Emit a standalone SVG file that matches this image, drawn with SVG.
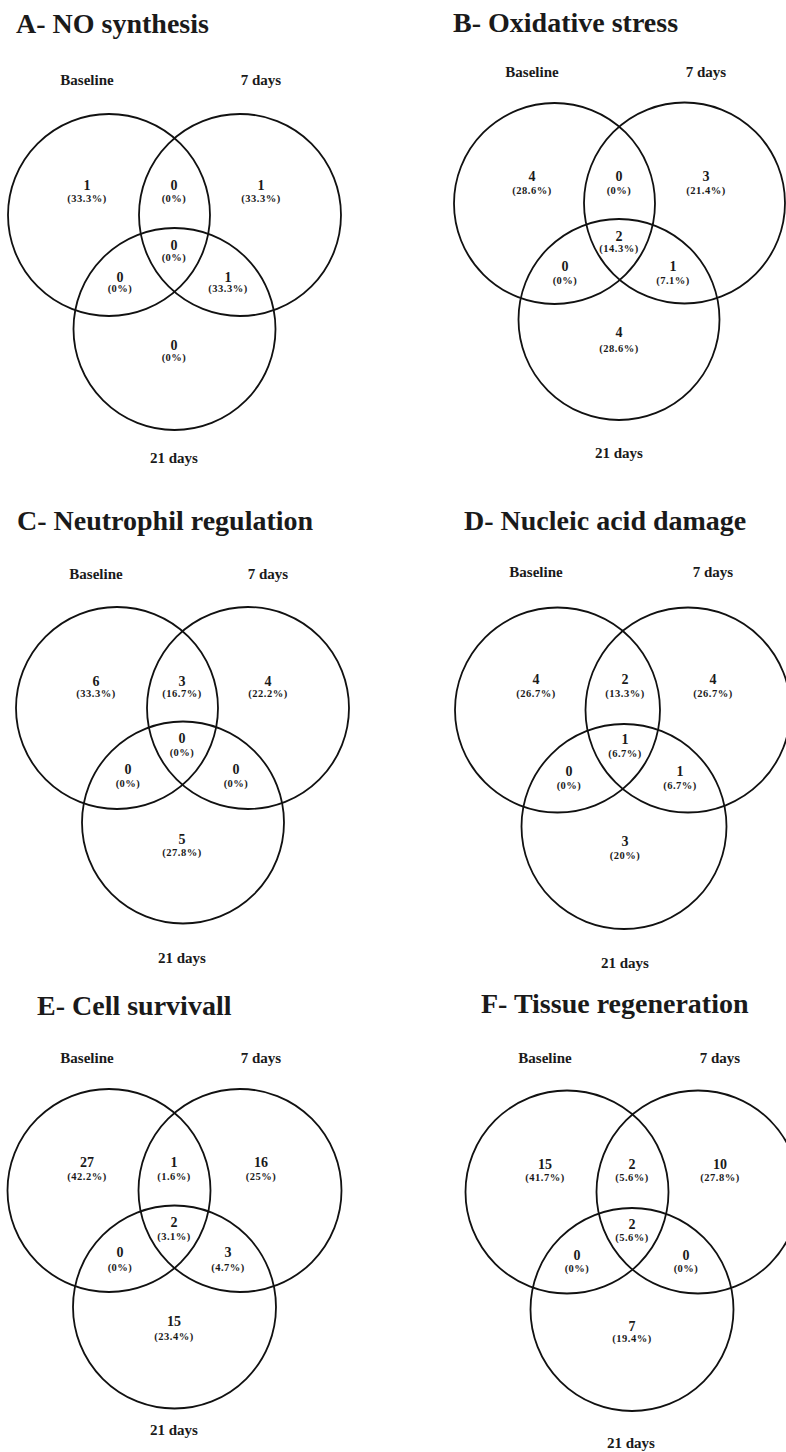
<svg xmlns="http://www.w3.org/2000/svg" width="786" height="1452" viewBox="0 0 786 1452">
<style>
text{font-family:"Liberation Serif","Times New Roman",serif;font-weight:bold;fill:#1a1a1a}
.t{font-size:28px}
.l{font-size:15px;text-anchor:middle}
.n{font-size:14px;text-anchor:middle}
.p{font-size:10.5px;text-anchor:middle;letter-spacing:0.5px}
circle{fill:none;stroke:#111;stroke-width:1.8}
</style>
<rect width="786" height="1452" fill="#fff"/>

<g id="panelA">
<text class="t" x="16" y="33">A- NO synthesis</text>
<text class="l" x="87" y="85">Baseline</text>
<text class="l" x="261" y="85">7 days</text>
<text class="l" x="174" y="463">21 days</text>
<circle cx="109" cy="215" r="101"/>
<circle cx="240" cy="215" r="101"/>
<circle cx="174.5" cy="329" r="101"/>
<text class="n" x="87" y="190">1</text><text class="p" x="87" y="202">(33.3%)</text>
<text class="n" x="174" y="190">0</text><text class="p" x="174" y="202">(0%)</text>
<text class="n" x="261" y="190">1</text><text class="p" x="261" y="202">(33.3%)</text>
<text class="n" x="174" y="250">0</text><text class="p" x="174" y="261">(0%)</text>
<text class="n" x="120" y="282">0</text><text class="p" x="120" y="292">(0%)</text>
<text class="n" x="228" y="282">1</text><text class="p" x="228" y="292">(33.3%)</text>
<text class="n" x="174" y="350">0</text><text class="p" x="174" y="361">(0%)</text>
</g>

<g id="panelB">
<text class="t" x="453" y="32">B- Oxidative stress</text>
<text class="l" x="532" y="77">Baseline</text>
<text class="l" x="706" y="77">7 days</text>
<text class="l" x="619" y="458">21 days</text>
<circle cx="554.5" cy="203.5" r="100.5"/>
<circle cx="684.5" cy="203" r="100.5"/>
<circle cx="619" cy="319.5" r="100.5"/>
<text class="n" x="532" y="181">4</text><text class="p" x="532" y="194">(28.6%)</text>
<text class="n" x="619" y="181">0</text><text class="p" x="619" y="194">(0%)</text>
<text class="n" x="706" y="181">3</text><text class="p" x="706" y="194">(21.4%)</text>
<text class="n" x="619" y="241">2</text><text class="p" x="619" y="252">(14.3%)</text>
<text class="n" x="565" y="271">0</text><text class="p" x="565" y="284">(0%)</text>
<text class="n" x="673" y="271">1</text><text class="p" x="673" y="284">(7.1%)</text>
<text class="n" x="619" y="337">4</text><text class="p" x="619" y="352">(28.6%)</text>
</g>

<g id="panelC">
<text class="t" x="17" y="530">C- Neutrophil regulation</text>
<text class="l" x="96" y="579">Baseline</text>
<text class="l" x="268" y="579">7 days</text>
<text class="l" x="182" y="963">21 days</text>
<circle cx="117" cy="708" r="101"/>
<circle cx="248" cy="708" r="101"/>
<circle cx="183" cy="822.5" r="101"/>
<text class="n" x="96" y="686">6</text><text class="p" x="96" y="697">(33.3%)</text>
<text class="n" x="182" y="686">3</text><text class="p" x="182" y="697">(16.7%)</text>
<text class="n" x="268" y="686">4</text><text class="p" x="268" y="697">(22.2%)</text>
<text class="n" x="182" y="743">0</text><text class="p" x="182" y="756">(0%)</text>
<text class="n" x="128" y="774">0</text><text class="p" x="128" y="787">(0%)</text>
<text class="n" x="236" y="774">0</text><text class="p" x="236" y="787">(0%)</text>
<text class="n" x="182" y="844">5</text><text class="p" x="182" y="856">(27.8%)</text>
</g>

<g id="panelD">
<text class="t" x="464" y="530">D- Nucleic acid damage</text>
<text class="l" x="536" y="577">Baseline</text>
<text class="l" x="713" y="577">7 days</text>
<text class="l" x="625" y="968">21 days</text>
<circle cx="557.5" cy="710" r="102.5"/>
<circle cx="688" cy="710" r="102.5"/>
<circle cx="624" cy="826.5" r="102.5"/>
<text class="n" x="536" y="684">4</text><text class="p" x="536" y="697">(26.7%)</text>
<text class="n" x="625" y="684">2</text><text class="p" x="625" y="697">(13.3%)</text>
<text class="n" x="713" y="684">4</text><text class="p" x="713" y="697">(26.7%)</text>
<text class="n" x="625" y="744">1</text><text class="p" x="625" y="757">(6.7%)</text>
<text class="n" x="569" y="776">0</text><text class="p" x="569" y="789">(0%)</text>
<text class="n" x="680" y="776">1</text><text class="p" x="680" y="789">(6.7%)</text>
<text class="n" x="625" y="846">3</text><text class="p" x="625" y="859">(20%)</text>
</g>

<g id="panelE">
<text class="t" x="37" y="1015">E- Cell survivall</text>
<text class="l" x="87" y="1063">Baseline</text>
<text class="l" x="261" y="1063">7 days</text>
<text class="l" x="174" y="1435">21 days</text>
<circle cx="109" cy="1190.5" r="101.5"/>
<circle cx="240" cy="1190.5" r="101.5"/>
<circle cx="174.5" cy="1307" r="101.5"/>
<text class="n" x="87" y="1167">27</text><text class="p" x="87" y="1180">(42.2%)</text>
<text class="n" x="174" y="1167">1</text><text class="p" x="174" y="1180">(1.6%)</text>
<text class="n" x="261" y="1167">16</text><text class="p" x="261" y="1180">(25%)</text>
<text class="n" x="174" y="1227">2</text><text class="p" x="174" y="1240">(3.1%)</text>
<text class="n" x="120" y="1257">0</text><text class="p" x="120" y="1271">(0%)</text>
<text class="n" x="228" y="1257">3</text><text class="p" x="228" y="1271">(4.7%)</text>
<text class="n" x="174" y="1326">15</text><text class="p" x="174" y="1340">(23.4%)</text>
</g>

<g id="panelF">
<text class="t" x="481" y="1013">F- Tissue regeneration</text>
<text class="l" x="545" y="1063">Baseline</text>
<text class="l" x="720" y="1063">7 days</text>
<text class="l" x="631" y="1448">21 days</text>
<circle cx="567" cy="1192" r="101.5"/>
<circle cx="698" cy="1192" r="101.5"/>
<circle cx="632" cy="1309.5" r="101.5"/>
<text class="n" x="545" y="1169">15</text><text class="p" x="545" y="1181">(41.7%)</text>
<text class="n" x="632" y="1169">2</text><text class="p" x="632" y="1181">(5.6%)</text>
<text class="n" x="720" y="1169">10</text><text class="p" x="720" y="1181">(27.8%)</text>
<text class="n" x="632" y="1229">2</text><text class="p" x="632" y="1241">(5.6%)</text>
<text class="n" x="577" y="1260">0</text><text class="p" x="577" y="1272">(0%)</text>
<text class="n" x="686" y="1260">0</text><text class="p" x="686" y="1272">(0%)</text>
<text class="n" x="632" y="1331">7</text><text class="p" x="632" y="1342">(19.4%)</text>
</g>

<g id="connectors"></g>
</svg>
